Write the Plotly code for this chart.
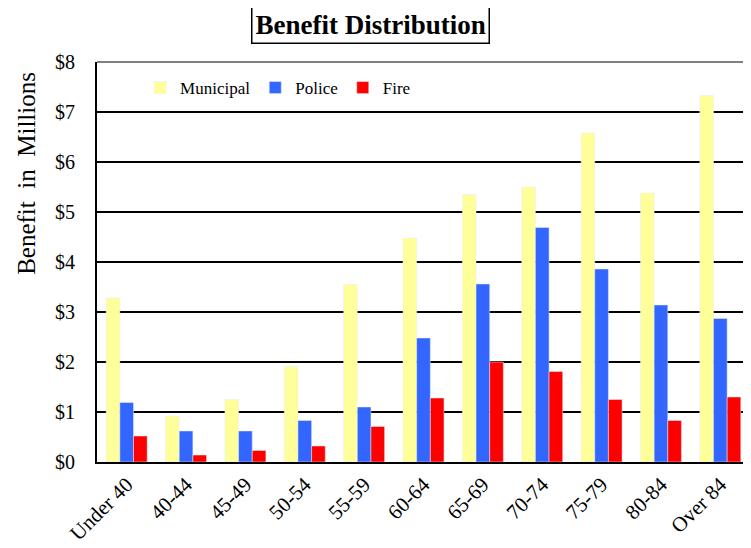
import plotly.graph_objects as go

categories = ["Under 40", "40-44", "45-49", "50-54", "55-59", "60-64",
              "65-69", "70-74", "75-79", "80-84", "Over 84"]
municipal = [3.28, 0.92, 1.25, 1.91, 3.55, 4.48, 5.35, 5.50, 6.58, 5.38, 7.33]
police = [1.19, 0.62, 0.62, 0.83, 1.10, 2.48, 3.56, 4.69, 3.86, 3.14, 2.87]
fire = [0.52, 0.14, 0.23, 0.32, 0.71, 1.28, 2.00, 1.81, 1.25, 0.83, 1.30]

FONT = "Liberation Serif, Times New Roman, serif"

fig = go.Figure()
fig.add_bar(x=categories, y=municipal, name="Municipal", marker_color="#FFFF99")
fig.add_bar(x=categories, y=police, name="Police", marker_color="#3366FF")
fig.add_bar(x=categories, y=fire, name="Fire", marker_color="#FF0000")

fig.update_layout(
    width=743, height=540,
    margin=dict(l=89, r=1, t=54, b=86, autoexpand=False),
    paper_bgcolor="white", plot_bgcolor="white",
    font=dict(family=FONT, color="black"),
    barmode="group", bargap=0.31, bargroupgap=0,
    showlegend=True,
    legend=dict(orientation="h", x=0.066, y=0.935, xanchor="left", yanchor="middle",
                font=dict(size=17, family=FONT, color="black"), bgcolor="rgba(0,0,0,0)",
                itemclick=False),
    xaxis=dict(tickangle=-45, tickfont=dict(size=21, family=FONT),
               showline=True, linecolor="black", linewidth=2, ticks="",
               automargin=False),
    yaxis=dict(range=[0, 8], dtick=1, tickprefix="$", tickfont=dict(size=20, family=FONT),
               showgrid=True, gridcolor="black", gridwidth=1.5,
               showline=True, linecolor="black", linewidth=2, ticks="",
               zeroline=False, automargin=False, ticklabelstandoff=16),
    shapes=[
        dict(type="line", xref="paper", yref="paper", x0=0, x1=1, y0=1, y1=1,
             line=dict(color="#808080", width=2)),
        dict(type="line", xref="paper", yref="paper", x0=1, x1=1, y0=0, y1=1,
             line=dict(color="#808080", width=2)),
    ],
    annotations=[
        dict(text="<b>Benefit Distribution</b>", xref="paper", yref="paper",
             x=0.419, y=1.0925, xanchor="center", yanchor="middle", showarrow=False,
             font=dict(size=27, family=FONT, color="black"),
             bordercolor="black", borderwidth=1.5, borderpad=3, bgcolor="white"),
        dict(text="Benefit  in  Millions", xref="paper", yref="paper",
             x=-0.109, y=0.7225, xanchor="center", yanchor="middle", showarrow=False,
             textangle=-90, font=dict(size=25, family=FONT, color="black")),
    ],
)

fig.write_html("out.html")
